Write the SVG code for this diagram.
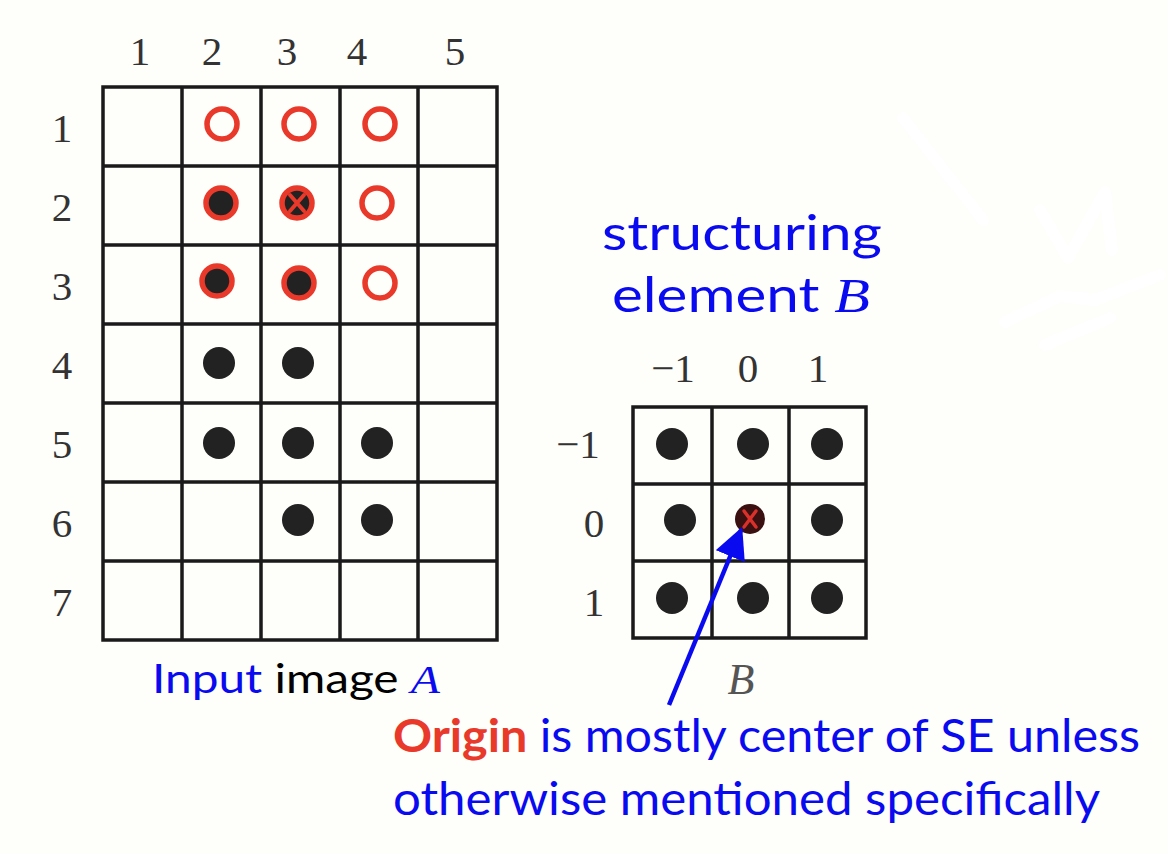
<svg xmlns="http://www.w3.org/2000/svg" width="1168" height="854" viewBox="0 0 1168 854">
<style>
.grid{fill:none;stroke:#1a1a1a;stroke-width:3.5}
.num{font-family:"Liberation Serif",serif;font-size:41px;fill:#333;text-anchor:middle}
.dot{fill:#222}
.ring{fill:none;stroke:#E8392A;stroke-width:5.5}
.ringd{fill:#222;stroke:#E8392A;stroke-width:5.5}
.xr{stroke:#E8392A;stroke-width:4;stroke-linecap:round}
.sans{font-family:Lato,"Liberation Sans",sans-serif}
.blue{fill:#0A0AF0}
.mathi{font-family:"Liberation Serif",serif;font-style:italic}
</style>
<defs>
<marker id="ah" viewBox="0 0 10 10" refX="9" refY="5" markerWidth="7" markerHeight="7" markerUnits="strokeWidth" orient="auto">
<path d="M0,0 L10,5 L0,10 z" fill="#0A0AF0"/>
</marker>
</defs>
<rect width="1168" height="854" fill="#FEFEFA"/>
<g id="bg-marks" stroke="#FFFFFF" stroke-width="12" stroke-linecap="round" stroke-linejoin="round" fill="none">
<path d="M903,118 L983,220"/>
<path d="M1040,210 L1068,258 L1105,192 L1112,250 M1005,322 L1060,296 L1095,300 L1160,275 M1045,345 L1110,318"/>
</g>
<g id="image-A">
<g class="grid">
<rect x="103" y="87" width="394" height="553"/>
<path d="M182,87V640M261,87V640M340,87V640M418,87V640M103,166H497M103,245H497M103,324H497M103,403H497M103,482H497M103,561H497"/>
</g>
<g class="num">
<text x="140" y="65">1</text><text x="212" y="65">2</text><text x="287" y="65">3</text><text x="357" y="65">4</text><text x="455" y="65">5</text>
<text x="62" y="142">1</text><text x="62" y="221">2</text><text x="62" y="300">3</text><text x="62" y="379">4</text><text x="62" y="458">5</text><text x="62" y="537">6</text><text x="62" y="616">7</text>
</g>
<circle class="ring" cx="222" cy="124" r="15"/>
<circle class="ring" cx="299" cy="124" r="15"/>
<circle class="ring" cx="380" cy="124" r="15"/>
<circle class="ringd" cx="221" cy="203" r="15"/>
<circle class="ringd" cx="297" cy="203" r="15"/>
<path class="xr" d="M290,195L304,211M304,195L290,211"/>
<circle class="ring" cx="377" cy="203" r="15"/>
<circle class="ringd" cx="217" cy="281" r="15"/>
<circle class="ringd" cx="299" cy="283" r="15"/>
<circle class="ring" cx="380" cy="283" r="15"/>
<circle class="dot" cx="219" cy="363" r="16"/>
<circle class="dot" cx="298" cy="363" r="16"/>
<circle class="dot" cx="219" cy="443" r="16"/>
<circle class="dot" cx="298" cy="443" r="16"/>
<circle class="dot" cx="377" cy="443" r="16"/>
<circle class="dot" cx="298" cy="520" r="16"/>
<circle class="dot" cx="377" cy="520" r="16"/>
<text x="152" y="693" font-size="40" textLength="288" lengthAdjust="spacingAndGlyphs"><tspan class="sans blue">Input</tspan><tspan class="sans" fill="#000"> image </tspan><tspan class="mathi blue">A</tspan></text>
</g>
<g id="element-B">
<text class="sans blue" x="602" y="250" font-size="48" textLength="280" lengthAdjust="spacingAndGlyphs">structuring</text>
<text x="612" y="312" font-size="48" textLength="258" lengthAdjust="spacingAndGlyphs"><tspan class="sans blue">element </tspan><tspan class="mathi blue">B</tspan></text>
<g class="grid">
<rect x="633" y="407" width="233" height="231"/>
<path d="M712,407V638M789,407V638M633,484H866M633,561H866"/>
</g>
<g class="num">
<text x="673" y="382">−1</text><text x="748" y="382">0</text><text x="818" y="382">1</text>
<text x="578" y="458">−1</text><text x="594" y="537">0</text><text x="594" y="616">1</text>
</g>
<circle class="dot" cx="672" cy="444" r="16"/>
<circle class="dot" cx="753" cy="444" r="16"/>
<circle class="dot" cx="827" cy="444" r="16"/>
<circle class="dot" cx="680" cy="520" r="16"/>
<circle fill="#3a1010" cx="750" cy="519" r="15"/>
<path d="M744,511L756,527M756,511L744,527" stroke="#D8302A" stroke-width="3.5" stroke-linecap="round"/>
<circle class="dot" cx="827" cy="520" r="16"/>
<circle class="dot" cx="672" cy="598" r="16"/>
<circle class="dot" cx="753" cy="598" r="16"/>
<circle class="dot" cx="827" cy="598" r="16"/>
<text class="mathi" x="741" y="694" font-size="44" fill="#555" text-anchor="middle">B</text>
</g>
<g id="connectors">
<line x1="669" y1="705" x2="741" y2="530" stroke="#0A0AF0" stroke-width="4.5" marker-end="url(#ah)"/>
</g>
<g id="origin-note" class="sans" font-size="46">
<text x="393" y="752" textLength="747" lengthAdjust="spacingAndGlyphs"><tspan fill="#E8392A" font-weight="bold">Origin</tspan><tspan class="blue"> is mostly center of SE unless</tspan></text>
<text class="blue" x="393" y="815" textLength="707" lengthAdjust="spacingAndGlyphs">otherwise mentioned specifically</text>
</g>
</svg>
